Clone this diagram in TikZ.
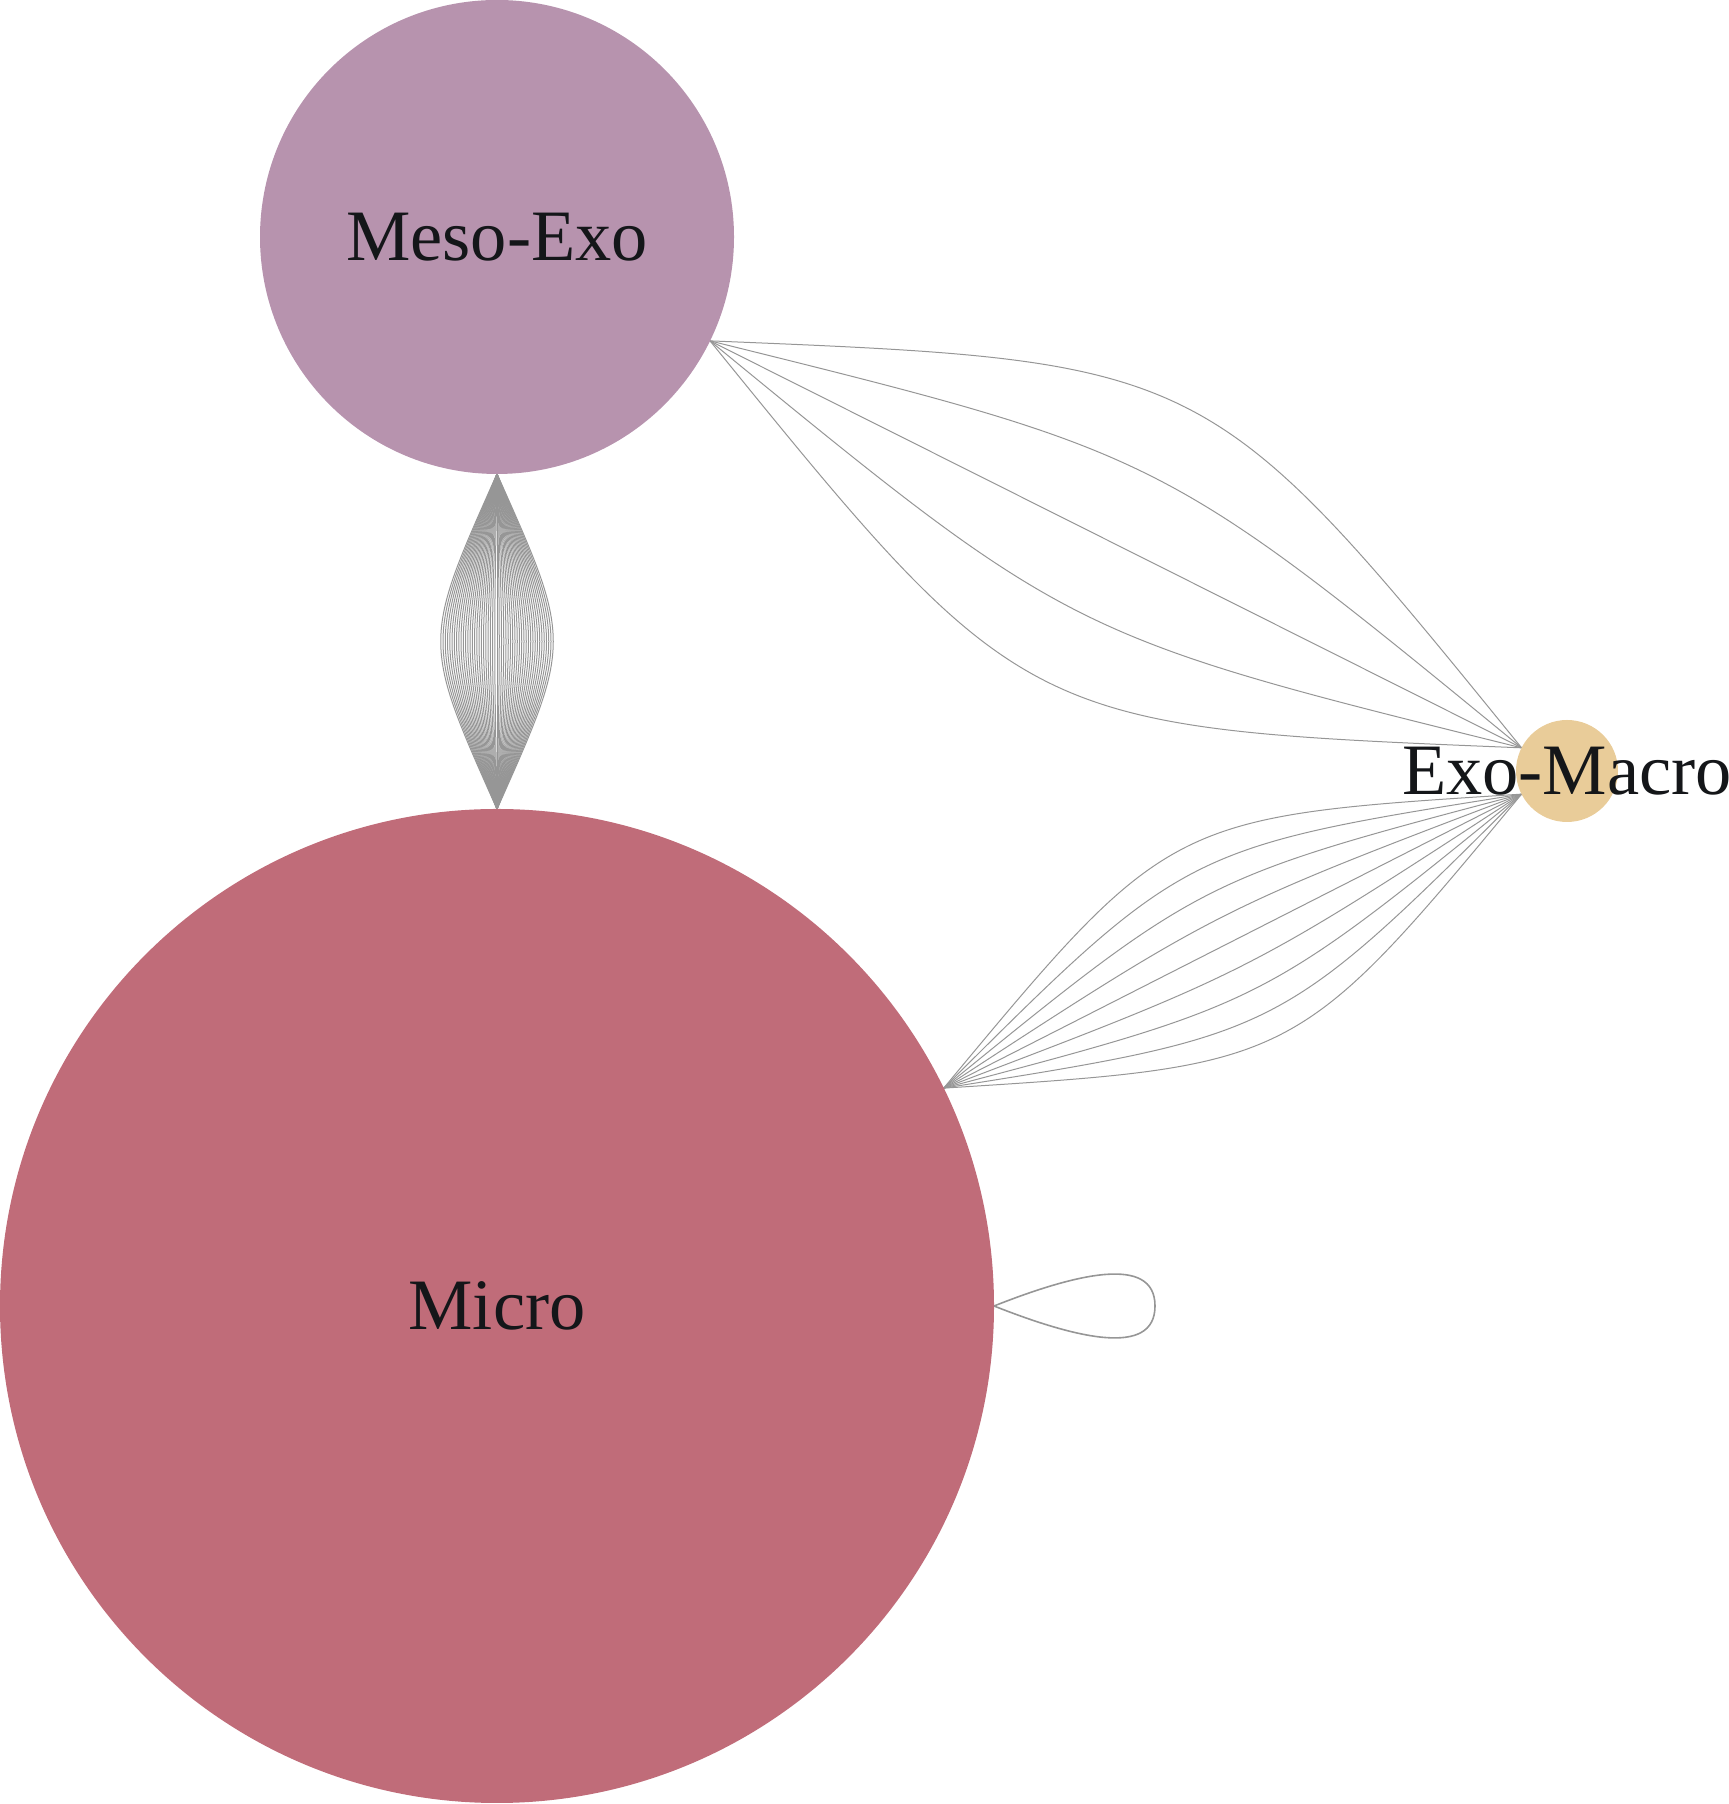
\documentclass[tikz,border=0pt]{standalone}
\usepackage{fontspec}
\setmainfont{Liberation Serif}
\usetikzlibrary{calc}
\definecolor{mesoc}{RGB}{183,147,174}
\definecolor{microc}{RGB}{192,108,121}
\definecolor{macroc}{RGB}{233,204,153}
\definecolor{txtc}{RGB}{20,22,25}
\definecolor{edgec}{RGB}{150,150,150}
\pgfdeclarelayer{bg}
\pgfsetlayers{bg,main}
\begin{document}
\begin{tikzpicture}[x=1pt,y=1pt,
  vtx/.style={circle, draw=none, outer sep=0pt, inner sep=0pt},
  lbl/.style={inner sep=0pt, outer sep=0pt, text=txtc, font=\fontsize{72.4}{82}\selectfont},
  edge/.style={draw=edgec, line width=1pt},
  loopedge/.style={draw=edgec, line width=1.6pt}]
\useasboundingbox (0,0) rectangle (1729,1804);
\node[vtx, fill=mesoc, minimum size=474pt] (meso) at (497,1567) {};
\node[vtx, fill=microc, minimum size=994pt] (micro) at (497,498) {};
\node[vtx, fill=macroc, minimum size=102pt] (macro) at (1567,1033) {};
\begin{pgfonlayer}{bg}
  % Meso-Exo -- Micro bundle
  \coordinate (ma) at (meso.-90);
  \coordinate (mb) at (micro.90);
  \coordinate (mm) at ($(ma)!0.5!(mb)$);
  \foreach \k in {-25,...,25}{
    \draw[edge] (ma) .. controls ($(mm)!\k*3pt!90:(mb)$) .. (mb);
  }
  % Meso-Exo -- Exo-Macro bundle
  \coordinate (ua) at (meso.-26.52);
  \coordinate (ub) at (macro.153.48);
  \coordinate (um) at ($(ua)!0.5!(ub)$);
  \foreach \k in {-2,...,2}{
    \draw[edge] (ua) .. controls ($(um)!\k*102.5pt!90:(ub)$) .. (ub);
  }
  % Micro -- Exo-Macro bundle
  \coordinate (la) at (micro.26.57);
  \coordinate (lb) at (macro.-153.43);
  \coordinate (lm) at ($(la)!0.5!(lb)$);
  \foreach \k in {-4,...,4}{
    \draw[edge] (la) .. controls ($(lm)!\k*35pt!90:(lb)$) .. (lb);
  }
  % self loop on Micro
  \coordinate (lp) at (1155,498);
  \draw[loopedge] (micro.0) .. controls (1075,530) and (1155,550) .. (lp)
                  .. controls (1155,446) and (1075,466) .. (micro.0);
\end{pgfonlayer}
\node[lbl] (mesolbl) at (meso) {Meso-Exo};
\node[lbl] (microlbl) at (micro) {Micro};
\node[lbl] (macrolbl) at (macro) {Exo-Macro};
\end{tikzpicture}
\end{document}
